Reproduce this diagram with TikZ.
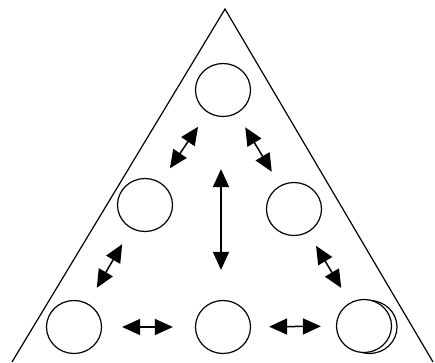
\documentclass[tikz,border=0pt]{standalone}
\usetikzlibrary{arrows.meta, shapes.geometric}
\begin{document}
\begin{tikzpicture}[x=1pt, y=-1pt,
    circ/.style={draw, ellipse, minimum width=55pt, minimum height=53pt,
                 inner sep=0pt, line width=1.2pt, fill=white},
    arr/.style={{Triangle[length=18pt,width=16pt]}-{Triangle[length=18pt,width=16pt]},
                line width=1.5pt}
]
\useasboundingbox (0,0) rectangle (435,362);
% Outline
\draw[line width=1.2pt] (12,362) -- (225,9) -- (433,362);
% Circles
\node[circ] (top) at (223,90) {};
\node[circ] (ml) at (145,205) {};
\node[circ] (mr) at (294,209) {};
\node[circ] (bl) at (74,327) {};
\node[circ] (bm) at (223,327) {};
\node[circ] (brback) at (369.5,327) {};
\node[circ] (br) at (364,326) {};
% Arrows
\draw[arr, shorten <=17pt, shorten >=17pt] (top) -- (ml);
\draw[arr, shorten <=16pt, shorten >=16pt] (top) -- (mr);
\draw[arr, shorten <=52pt, shorten >=30pt] ([xshift=-2pt]top.south) -- ([xshift=-2pt]bm.north);
\draw[arr, shorten <=18pt, shorten >=18pt] (ml) -- (bl);
\draw[arr, shorten <=15.5pt, shorten >=17pt] (mr) -- (br);
\draw[arr, shorten <=20pt, shorten >=22pt] (bl) -- (bm);
\draw[arr, shorten <=18pt, shorten >=15pt] (bm) -- (br);
\end{tikzpicture}
\end{document}
